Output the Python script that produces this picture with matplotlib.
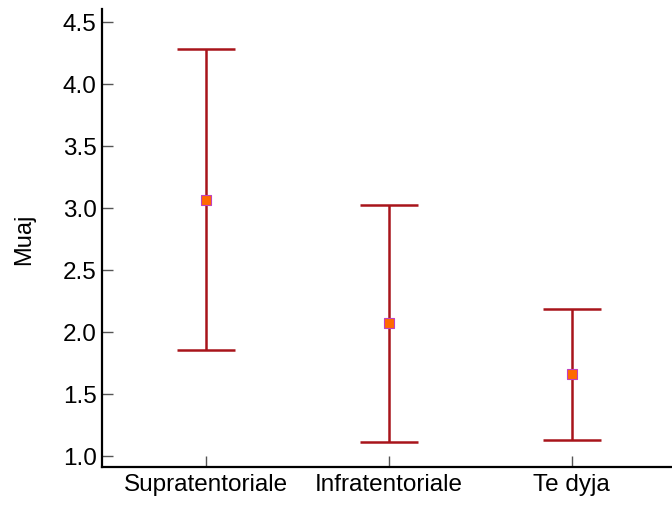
import matplotlib
matplotlib.use('Agg')
import matplotlib.pyplot as plt
import numpy as np

plt.rcParams['font.family'] = ['Liberation Sans', 'DejaVu Sans']

categories = ['Supratentoriale', 'Infratentoriale', 'Te dyja']
means = [3.065, 2.07, 1.66]
upper = [4.28, 3.02, 2.18]
lower = [1.855, 1.11, 1.125]

x = np.arange(len(categories))
means = np.array(means)
err = [means - np.array(lower), np.array(upper) - means]

fig = plt.figure(figsize=(6.72, 5.06), dpi=100)
ax = fig.add_axes([0.152, 0.075, 0.848, 0.905])

ax.errorbar(x, means, yerr=err, fmt='none', ecolor='#a8141a', elinewidth=1.8,
            capsize=21, capthick=1.8)
ax.plot(x, means, 's', markersize=7, markerfacecolor='#ff6a00',
        markeredgecolor='#c040c0', markeredgewidth=0.8, linestyle='none')

ax.set_xlim(-0.57, 2.55)
ax.set_ylim(0.91, 4.6)
ax.set_yticks([1.0, 1.5, 2.0, 2.5, 3.0, 3.5, 4.0, 4.5])
ax.set_yticklabels(['1.0', '1.5', '2.0', '2.5', '3.0', '3.5', '4.0', '4.5'])
ax.set_xticks(x)
ax.set_xticklabels(categories)
ax.set_ylabel('Muaj', fontsize=17, labelpad=20)

for s in ['top', 'right']:
    ax.spines[s].set_visible(False)
for s in ['left', 'bottom']:
    ax.spines[s].set_linewidth(1.6)

ax.tick_params(axis='both', direction='in', length=8, width=1, color='#555555',
               labelsize=17.5, pad=4)

fig.savefig('out.png', dpi=100)
